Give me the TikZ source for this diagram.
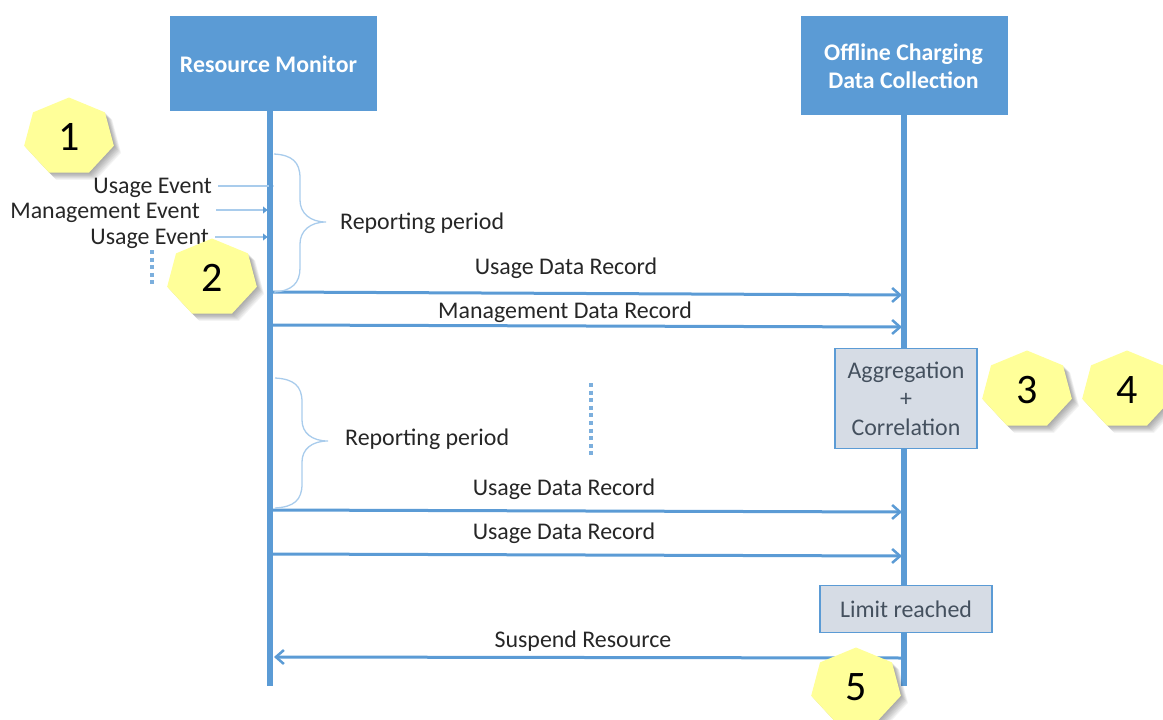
\documentclass[tikz,border=0pt]{standalone}
\usepackage{fontspec}
\setmainfont{Carlito}
\usetikzlibrary{arrows.meta,calc}
\definecolor{bluefill}{HTML}{5B9BD5}
\definecolor{lightline}{HTML}{A9CCEC}
\definecolor{greyfill}{HTML}{D6DCE5}
\definecolor{greytext}{HTML}{44505E}
\definecolor{yel}{HTML}{FFFF99}
\tikzset{
  headbox/.style={fill=bluefill,draw=none,inner sep=0pt},
  headtxt/.style={text=white,font=\fontsize{23.8}{28}\selectfont\bfseries,align=center,inner sep=0pt},
  lifeline/.style={draw=bluefill,line width=5.5pt},
  msg/.style={draw=bluefill,line width=3pt,-{Straight Barb[length=8pt,width=14pt,line width=2.5pt]}},
  evt/.style={draw=lightline,line width=1.6pt,-{Latex[length=5pt,width=8pt,color=bluefill]}},
  brace/.style={draw=lightline,line width=1.3pt},
  lbl/.style={text=black!85,font=\fontsize{23.9}{26}\selectfont,inner sep=0pt},
  note/.style={fill=greyfill,draw=bluefill,line width=1.5pt,inner sep=0pt,text=greytext,font=\fontsize{23.9}{28.5}\selectfont,align=center},
  dots/.style={draw=bluefill!80,line width=4pt,dash pattern=on 4pt off 3.6pt},
  numtxt/.style={font=\fontsize{42}{44}\selectfont,text=black,inner sep=0pt}
}
% heptagon centre x, centre y, node name, number
\newcommand{\hepta}[4]{%
  \foreach \o in {1,...,9}{%
    \path[fill=black,opacity=.045,shift={(#1+\o*0.8,#2+\o*0.8)}]
      (-90:46 and 39.5) -- (-38.57:46 and 39.5) -- (12.86:46 and 39.5) -- (64.29:46 and 39.5)
      -- (115.71:46 and 39.5) -- (167.14:46 and 39.5) -- (218.57:46 and 39.5) -- cycle;
  }
  \path[fill=yel,shift={(#1,#2)}]
      (-90:46 and 39.5) -- (-38.57:46 and 39.5) -- (12.86:46 and 39.5) -- (64.29:46 and 39.5)
      -- (115.71:46 and 39.5) -- (167.14:46 and 39.5) -- (218.57:46 and 39.5) -- cycle;
  \node[numtxt] (#3) at (#1,#2) {#4};
}
\begin{document}
\begin{tikzpicture}[x=1pt,y=-1pt]
\useasboundingbox (0,0) rectangle (1163,720);

% lifelines end points
\coordinate (rmEnd) at (270,686);
\coordinate (ocEnd) at (904,686);

\node[headbox,minimum width=207pt,minimum height=95pt] (rm) at (273.5,63.5) {};
\node[headbox,minimum width=207pt,minimum height=99pt] (oc) at (904,65.5) {};
\node[headtxt] (rmt) at (268.5,64.5) {Resource Monitor};
\node[headtxt] (oct) at (903.5,66.5) {Offline Charging\\Data Collection};

\draw[lifeline] (rm.south -| rmEnd) -- (rmEnd);
\draw[lifeline] (oc.south -| ocEnd) -- (ocEnd);

% anchors on the lifelines
\foreach \n/\ya/\yb in {a/292/295,b/325/327,c/510/512,d/554/556}{
  \coordinate (\n L) at (272,\ya);
  \coordinate (\n R) at (902,\yb);
}
\coordinate (sR) at (902,658);
\coordinate (sL) at (274,657);

\draw[msg] (aL) -- (aR);
\draw[msg] (bL) -- (bR);
\draw[msg] (cL) -- (cR);
\draw[msg] (dL) -- (dR);
\draw[msg] (sR) -- (sL);

\node[lbl] (m1) at (566,268) {Usage Data Record};
\node[lbl] (m2) at (565,312) {Management Data Record};
\node[lbl] (m3) at (564,489) {Usage Data Record};
\node[lbl] (m4) at (564,533) {Usage Data Record};
\node[lbl] (m5) at (583,641) {Suspend Resource};

% event inputs
\node[lbl,anchor=east] (e1) at (212,188) {Usage Event};
\node[lbl,anchor=east] (e2) at (200,213) {Management Event};
\node[lbl,anchor=east] (e3) at (209,239) {Usage Event};
\coordinate (e1t) at (274,186);
\coordinate (e2t) at (268,210);
\coordinate (e3t) at (268,237);
\draw[evt] (e1.east) ++(6,-2) -- (e1t);
\draw[evt] (e2.east) ++(16,-3) -- (e2t);
\draw[evt] (e3.east) ++(6,-2) -- (e3t);

% dots
\coordinate (d1a) at (152,250); \coordinate (d1b) at (152,286);
\coordinate (d2a) at (591,383); \coordinate (d2b) at (591,456);
\draw[dots] (d1a) -- (d1b);
\draw[dots] (d2a) -- (d2b);

% braces
\draw[brace] (274,154) .. controls (292,155) and (300,162) .. (300,178)
  -- (300,200) .. controls (300,213) and (310,222) .. (326,222)
  .. controls (310,222) and (300,231) .. (300,244)
  -- (300,268) .. controls (300,283) and (292,291) .. (274,292);
\draw[brace] (275,378) .. controls (294,379) and (302,386) .. (302,402)
  -- (302,420) .. controls (302,433) and (312,441) .. (328,441)
  .. controls (312,441) and (302,449) .. (302,462)
  -- (302,484) .. controls (302,500) and (294,507) .. (275,508);
\node[lbl,anchor=west] (r1) at (340,223) {Reporting period};
\node[lbl,anchor=west] (r2) at (345,439) {Reporting period};

% notes
\node[note,minimum width=142pt,minimum height=100pt] (n1) at (906,398.5) {Aggregation\\+\\Correlation};
\node[note,minimum width=172pt,minimum height=47pt] (n2) at (906,609) {Limit reached};

% number badges
\hepta{69}{137}{b1}{1}
\hepta{212}{278}{b2}{2}
\hepta{1027}{390}{b3}{3}
\hepta{1127}{390}{b4}{4}
\hepta{856}{687}{b5}{5}
\end{tikzpicture}
\end{document}
